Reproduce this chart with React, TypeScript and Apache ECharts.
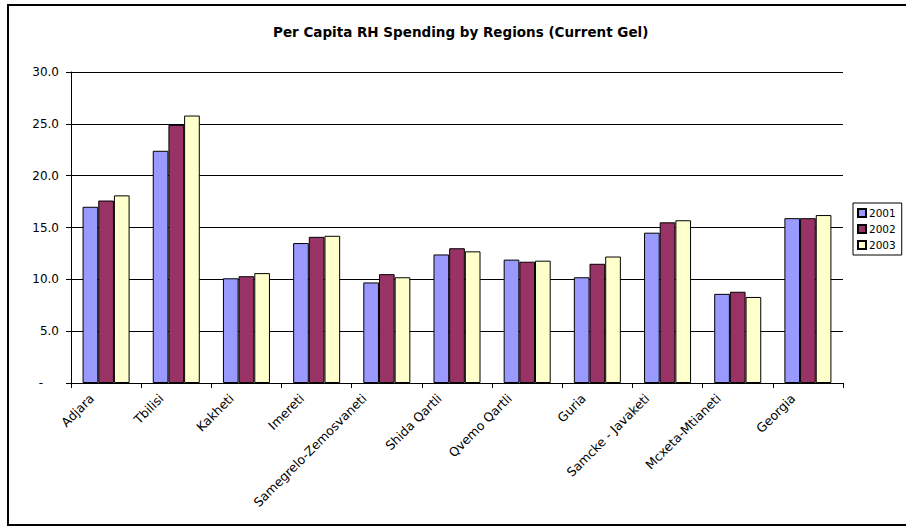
import React, { useEffect, useRef } from "react";
import * as echarts from "echarts";

const categories = [
  "Adjara",
  "Tbilisi",
  "Kakheti",
  "Imereti",
  "Samegrelo-Zemosvaneti",
  "Shida Qartli",
  "Qvemo Qartli",
  "Guria",
  "Samcke - Javaketi",
  "Mcxeta-Mtianeti",
  "Georgia",
];
const seriesNames = ["2001", "2002", "2003"];
const values2001 = [17.0, 22.4, 10.1, 13.5, 9.7, 12.4, 11.9, 10.2, 14.5, 8.6, 15.9];
const values2002 = [17.6, 24.9, 10.3, 14.1, 10.5, 13.0, 11.7, 11.5, 15.5, 8.8, 15.9];
const values2003 = [18.1, 25.8, 10.6, 14.2, 10.2, 12.7, 11.8, 12.2, 15.7, 8.3, 16.2];
const colors = ["#9999FF", "#993366", "#FFFFCC"];
const titleText = "Per Capita RH Spending by Regions (Current Gel)";

export default function App() {
  const ref = useRef<HTMLDivElement>(null);
  useEffect(() => {
    if (!ref.current) return;
    const chart = echarts.init(ref.current, undefined, { renderer: "svg" });
    const font = "'DejaVu Sans', Verdana, sans-serif";
    const data = [values2001, values2002, values2003];
    const labelSize = 12.5;
    const rich: Record<string, any> = {};
    categories.forEach((c, i) => {
      const len = c.length;
      const p = 12.8 + 0.39 * len;
      const b = 5.6 + 0.78 * len;
      rich["l" + i] = {
        fontFamily: font,
        fontSize: labelSize,
        color: "#000",
        padding: [0, p, b, 0],
      };
    });
    chart.setOption({
      animation: false,
      backgroundColor: "#ffffff",
      title: {
        text: titleText,
        left: 273,
        top: 25,
        padding: 0,
        textStyle: { fontFamily: font, fontSize: 13.5, fontWeight: "bold", color: "#000" },
      },
      legend: {
        orient: "vertical",
        left: 853,
        top: 203,
        data: seriesNames,
        itemWidth: 8,
        itemHeight: 8,
        itemGap: 4,
        padding: [4, 6, 4, 4],
        borderColor: "#000",
        borderWidth: 1,
        borderRadius: 0,
        icon: "rect",
        textStyle: { fontFamily: font, fontSize: 10.5, color: "#000", lineHeight: 12, padding: [0, 0, 0, -2] },
      },
      grid: { left: 71, right: 63, top: 72, bottom: 144, containLabel: false },
      xAxis: {
        type: "category",
        data: categories,
        axisLine: { show: true, lineStyle: { color: "#000", width: 1 } },
        axisTick: { show: true, length: 5, lineStyle: { color: "#000" } },
        axisLabel: {
          interval: 0,
          rotate: 45,
          margin: 6,
          fontFamily: font,
          fontSize: labelSize,
          color: "#000",
          formatter: (v: string, i: number) => `{l${i}|${v}}`,
          rich,
        },
      },
      yAxis: {
        type: "value",
        min: 0,
        max: 30,
        interval: 5,
        axisLine: { show: true, lineStyle: { color: "#000", width: 1 } },
        axisTick: { show: true, length: 5, lineStyle: { color: "#000" } },
        splitLine: { show: true, lineStyle: { color: "#000", width: 1 } },
        axisLabel: {
          margin: 12,
          fontFamily: font,
          fontSize: 12,
          color: "#000",
          formatter: (v: number) => (v === 0 ? "{z|-}" : v.toFixed(1)),
          rich: {
            z: { fontFamily: font, fontSize: 12, color: "#000", padding: [0, 16, 0, 0] },
          },
        },
      },
      series: seriesNames.map((name, i) => ({
        name,
        type: "bar",
        data: data[i],
        barGap: "0%",
        barCategoryGap: "33%",
        itemStyle: { color: colors[i], borderColor: "#000", borderWidth: 1 },
      })),
      graphic: [
        {
          type: "rect",
          shape: { x: 8, y: 5, width: 930, height: 520 },
          style: { fill: "none", stroke: "#000", lineWidth: 2 },
          silent: true,
        },
      ],
    });
    return () => chart.dispose();
  }, []);
  return (
    <div
      ref={ref}
      style={{ position: "fixed", left: 0, top: 0, width: 906, height: 527 }}
    />
  );
}
